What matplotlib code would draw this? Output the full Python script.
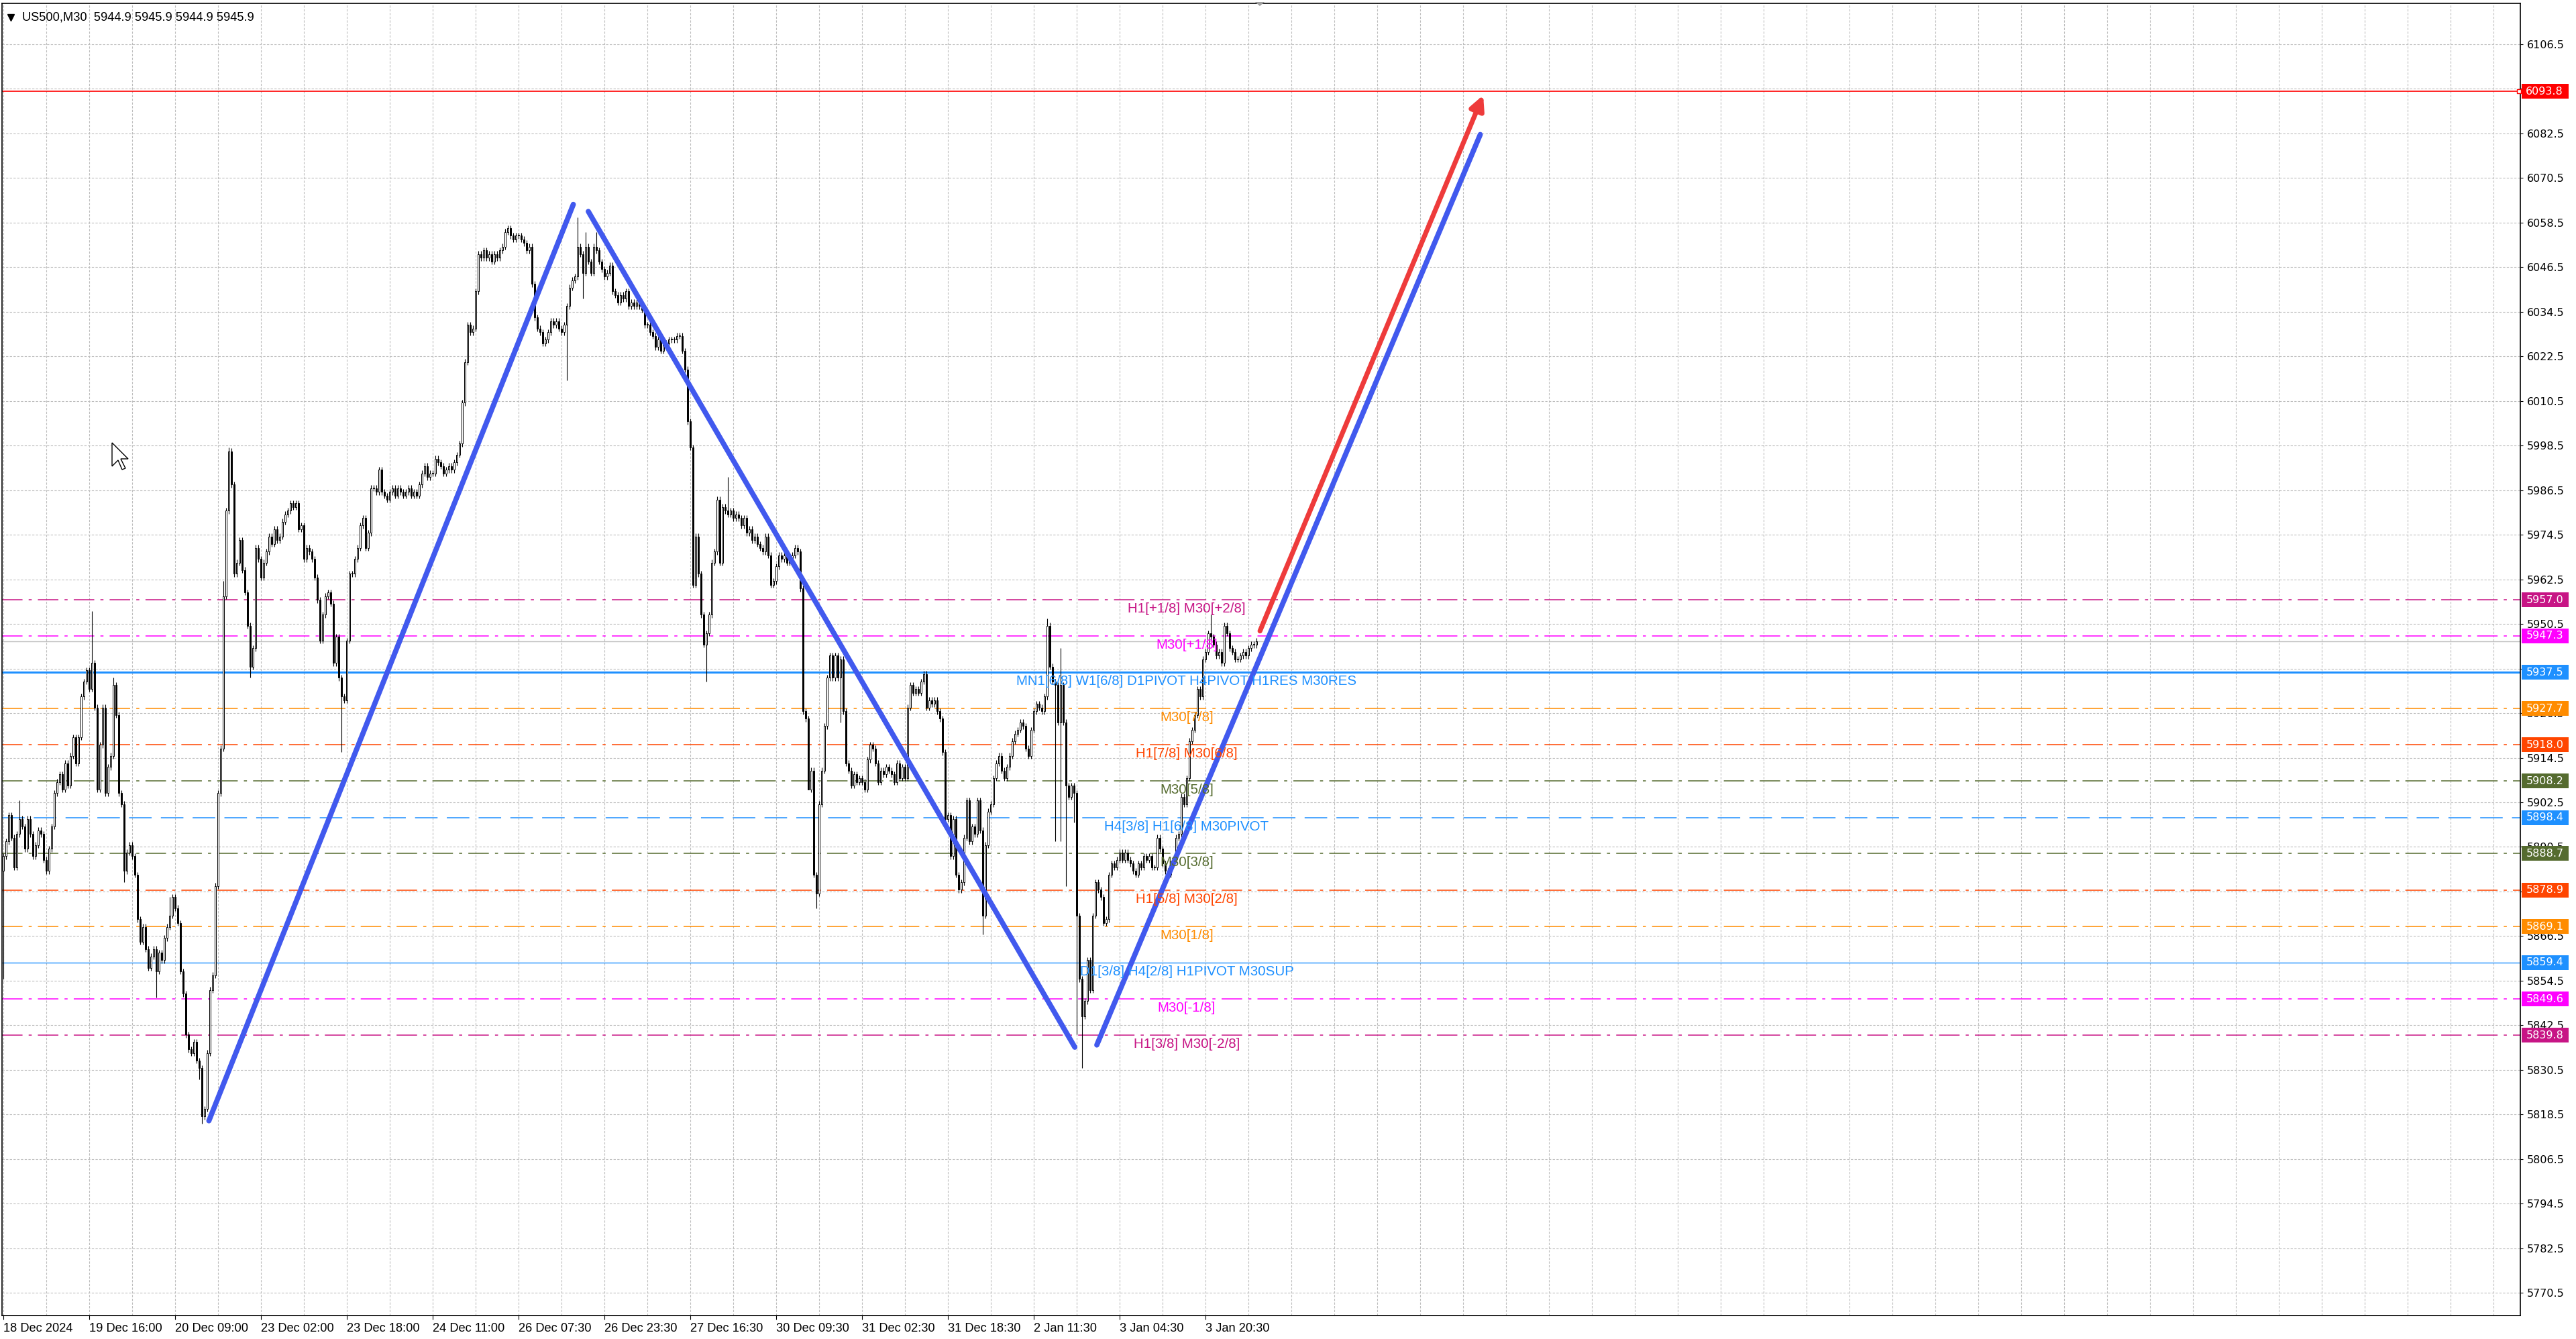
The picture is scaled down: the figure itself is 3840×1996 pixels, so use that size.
import numpy as np
import matplotlib
matplotlib.use("Agg")
import matplotlib.pyplot as plt
from matplotlib import font_manager
from matplotlib.patches import Polygon, Rectangle

W, H, DPI = 3840, 1996, 100

# ---------------- data ----------------
first_open = 5884.0
closes = [
    5888, 5892, 5899, 5893, 5885, 5894, 5898, 5896, 5890, 5898,
    5894, 5888, 5891, 5895, 5894, 5887, 5884, 5890, 5896, 5905,
    5908, 5910, 5906, 5913, 5907, 5915, 5920, 5913, 5920, 5931,
    5935, 5938, 5933, 5940, 5928, 5906, 5918, 5928, 5905, 5912,
    5915, 5934, 5926, 5905, 5902, 5884, 5889, 5891, 5888, 5883,
    5871, 5865, 5869, 5863, 5858, 5861, 5863, 5857, 5862, 5860,
    5866, 5869, 5872, 5877, 5874, 5870, 5857, 5851, 5840, 5836,
    5835, 5838, 5833, 5831, 5818, 5820, 5835, 5852, 5856, 5880,
    5905, 5917, 5958, 5981, 5997, 5988, 5964, 5967, 5973, 5965,
    5959, 5950, 5939, 5944, 5971, 5968, 5963, 5967, 5970, 5974,
    5972, 5976, 5973, 5974, 5978, 5980, 5981, 5983, 5982, 5983,
    5976, 5977, 5968, 5971, 5970, 5968, 5963, 5957, 5946, 5953,
    5958, 5959, 5956, 5940, 5947, 5936, 5931, 5930, 5946, 5964,
    5964, 5968, 5971, 5977, 5979, 5971, 5975, 5987, 5987, 5986,
    5992, 5986, 5985, 5984, 5986, 5987, 5985, 5987, 5986, 5985,
    5986, 5987, 5985, 5986, 5985, 5988, 5991, 5993, 5990, 5991,
    5991, 5995, 5994, 5993, 5991, 5992, 5993, 5992, 5994, 5996,
    5999, 6010, 6021, 6031, 6029, 6030, 6040, 6050, 6049, 6051,
    6049, 6050, 6048, 6050, 6049, 6051, 6052, 6056, 6057, 6055,
    6054, 6055, 6055, 6054, 6053, 6051, 6052, 6042, 6033, 6030,
    6029, 6026, 6027, 6029, 6032, 6031, 6032, 6030, 6029, 6031,
    6036, 6041, 6043, 6044, 6052, 6050, 6045, 6052, 6048, 6045,
    6052, 6051, 6048, 6046, 6044, 6045, 6047, 6040, 6039, 6037,
    6039, 6038, 6040, 6036, 6037, 6036, 6037, 6036, 6035, 6031,
    6031, 6029, 6028, 6025, 6027, 6024, 6026, 6026, 6027, 6027,
    6027, 6028, 6028, 6024, 6019, 6005, 5998, 5961, 5974, 5964,
    5953, 5945, 5948, 5953, 5967, 5970, 5984, 5967, 5982, 5981,
    5980, 5981, 5979, 5980, 5979, 5977, 5979, 5975, 5976, 5973,
    5974, 5972, 5971, 5970, 5974, 5969, 5961, 5962, 5966, 5969,
    5968, 5969, 5967, 5968, 5969, 5971, 5970, 5960, 5927, 5925,
    5906, 5911, 5883, 5878, 5902, 5911, 5923, 5936, 5942, 5936,
    5942, 5936, 5941, 5927, 5913, 5911, 5907, 5910, 5908, 5909,
    5908, 5906, 5914, 5918, 5917, 5913, 5908, 5911, 5910, 5912,
    5911, 5910, 5908, 5913, 5909, 5912, 5909, 5928, 5934, 5932,
    5933, 5932, 5935, 5937, 5928, 5930, 5929, 5930, 5927, 5925,
    5916, 5898, 5899, 5888, 5898, 5883, 5879, 5881, 5893, 5903,
    5892, 5896, 5894, 5903, 5895, 5872, 5891, 5900, 5902, 5909,
    5913, 5915, 5911, 5909, 5912, 5915, 5919, 5921, 5922, 5924,
    5923, 5917, 5915, 5922, 5927, 5929, 5928, 5927, 5931, 5950,
    5939, 5935, 5934, 5924, 5934, 5924, 5907, 5904, 5907, 5905,
    5872, 5855, 5845, 5849, 5860, 5852, 5872, 5881, 5879, 5877,
    5870, 5871, 5883, 5886, 5885, 5887, 5889, 5887, 5889, 5887,
    5886, 5884, 5883, 5886, 5885, 5888, 5887, 5888, 5885, 5885,
    5893, 5890, 5886, 5884, 5883, 5886, 5887, 5893, 5894, 5904,
    5902, 5909, 5919, 5922, 5926, 5933, 5931, 5941, 5943, 5948,
    5947, 5945, 5942, 5943, 5940, 5950, 5948, 5944, 5943, 5941,
    5941, 5942, 5943, 5942, 5944, 5945, 5944.9, 5945.9,
]
# notable wick extremes (bar index: price)
wick_highs = {6: 5903, 33: 5954, 41: 5936, 62: 5877, 82: 5962, 84: 5998,
              214: 6060, 217: 6056, 221: 6056, 270: 5990, 389: 5952,
              394: 5944, 450: 5953}
wick_lows = {0: 5855, 45: 5881, 57: 5850, 73: 5828, 74: 5816, 92: 5936,
             126: 5916, 210: 6016, 216: 6038, 262: 5935, 300: 5918,
             303: 5874, 312: 5924, 365: 5867, 392: 5892, 394: 5892,
             396: 5880, 399: 5897, 400: 5840, 402: 5831}

y_ticks = [5770.5, 5782.5, 5794.5, 5806.5, 5818.5, 5830.5, 5842.5, 5854.5,
           5866.5, 5878.5, 5890.5, 5902.5, 5914.5, 5926.5, 5938.5, 5950.5,
           5962.5, 5974.5, 5986.5, 5998.5, 6010.5, 6022.5, 6034.5, 6046.5,
           6058.5, 6070.5, 6082.5, 6094.5, 6106.5]
x_labels = ["18 Dec 2024", "19 Dec 16:00", "20 Dec 09:00", "23 Dec 02:00",
            "23 Dec 18:00", "24 Dec 11:00", "26 Dec 07:30", "26 Dec 23:30",
            "27 Dec 16:30", "30 Dec 09:30", "31 Dec 02:30", "31 Dec 18:30",
            "2 Jan 11:30", "3 Jan 04:30", "3 Jan 20:30"]

levels = [5957.0, 5947.3, 5937.5, 5927.7, 5918.0, 5908.2, 5898.4,
          5888.7, 5878.9, 5869.1, 5859.4, 5849.6, 5839.8]
level_colors = ["#C71585", "#FF00FF", "#1E90FF", "#FF8C00", "#FF4500",
                "#556B2F", "#1E90FF", "#556B2F", "#FF4500", "#FF8C00",
                "#1E90FF", "#FF00FF", "#C71585"]
level_styles = ["dashdot", "dashdot", "thick", "dashdot", "dashdot",
                "dashdot", "dashed", "dashdot", "dashdot", "dashdot",
                "solid", "dashdot", "dashdot"]
level_labels = ["H1[+1/8] M30[+2/8]", "M30[+1/8]",
                "MN1[6/8] W1[6/8] D1PIVOT H4PIVOT H1RES M30RES",
                "M30[7/8]", "H1[7/8] M30[6/8]", "M30[5/8]",
                "H4[3/8] H1[6/8] M30PIVOT", "M30[3/8]", "H1[5/8] M30[2/8]",
                "M30[1/8]", "D1[3/8] H4[2/8] H1PIVOT M30SUP", "M30[-1/8]",
                "H1[3/8] M30[-2/8]"]
target_level = 6093.8
bid_price = 5945.9
title_text = "US500,M30  5944.9 5945.9 5944.9 5945.9"

blue_lines = [((76.6, 5816.8), (212.4, 6063.4)),
              ((218.0, 6061.5), (399.3, 5836.6)),
              ((407.5, 5837.2), (550.4, 6082.2))]
red_arrow = ((468.3, 5948.6), (551.5, 6092.8))

# ---------------- fonts ----------------
names = {f.name for f in font_manager.fontManager.ttflist}
if "Liberation Sans Narrow" in names:
    NARROW, k = "Liberation Sans Narrow", 1.0
else:
    NARROW, k = "Liberation Sans", 0.82
LBL_FS = 18 * k
XL_FS = 16 * k
TICK_FS = 11.5

# ---------------- figure ----------------
fig = plt.figure(figsize=(W / DPI, H / DPI), dpi=DPI, facecolor="white")
ax = fig.add_axes([3 / W, 35 / H, 3754 / W, 1956 / H])
ax.set_facecolor("white")
XMIN, XMAX = -0.5, 938.0
YMIN, YMAX = 5764.4, 6117.5
ax.set_xlim(XMIN, XMAX)
ax.set_ylim(YMIN, YMAX)

# grid
ax.set_yticks(y_ticks)
ax.set_xticks(np.arange(0, 32 * len(x_labels), 32))
ax.set_xticks(np.arange(0, 939, 16), minor=True)
ax.grid(True, which="both", color="#BDBDBD", linestyle=(0, (3, 2)), linewidth=0.8, zorder=0)
ax.set_axisbelow(True)

# levels
for lv, col, st, txt in zip(levels, level_colors, level_styles, level_labels):
    if st == "dashdot":
        ax.axhline(lv, color=col, lw=1.1, linestyle=(0, (20, 6, 3, 6)), zorder=2)
    elif st == "dashed":
        ax.axhline(lv, color=col, lw=1.1, linestyle=(0, (22, 9)), zorder=2)
    elif st == "thick":
        ax.axhline(lv, color=col, lw=2.2, zorder=2)
    else:
        ax.axhline(lv, color=col, lw=1.0, zorder=2)
    ax.annotate(txt, xy=(441, lv), xytext=(0, -4), textcoords="offset pixels",
                ha="center", va="top", color=col, fontsize=LBL_FS,
                family=[NARROW, "DejaVu Sans"], zorder=7)

ax.axhline(target_level, color="#FF0000", lw=1.2, zorder=2)
ax.plot([XMAX - 0.6], [target_level], marker="s", ms=4, mfc="white",
        mec="#FF0000", mew=1, clip_on=False, zorder=8)
ax.axhline(bid_price, color="#C0C0C0", lw=1.0, zorder=2)

# candles
c = np.array(closes, dtype=float)
o = np.concatenate([[first_open], c[:-1]])
x = np.arange(len(c))
top = np.maximum(o, c)
bot = np.minimum(o, c)
hi = top + 0.8
lo = bot - 0.8
for i, v in wick_highs.items():
    hi[i] = v
for i, v in wick_lows.items():
    lo[i] = v
ax.vlines(x, lo, hi, color="black", lw=0.8, zorder=3)
fc = np.where(c >= o, "white", "black")
ax.bar(x, np.maximum(top - bot, 0.15), bottom=bot, width=0.72, color=fc,
       edgecolor="black", linewidth=0.7, zorder=4)

# trend lines
for (x0, y0), (x1, y1) in blue_lines:
    ax.plot([x0, x1], [y0, y1], color="#4159EE", lw=5.6,
            solid_capstyle="round", zorder=5)
(rx0, ry0), (rx1, ry1) = red_arrow
ax.annotate("", xy=(rx1, ry1), xytext=(rx0, ry0),
            arrowprops=dict(arrowstyle="-|>", color="#EE3B3B", lw=5.2,
                            mutation_scale=32, shrinkA=0, shrinkB=0,
                            capstyle="round"), zorder=5)

# axes styling
for s in ax.spines.values():
    s.set_color("black")
    s.set_linewidth(1.2)
ax.yaxis.tick_right()
ax.tick_params(axis="y", which="major", length=3, width=0.8, pad=4,
               labelsize=TICK_FS, colors="black")
ax.set_yticklabels([f"{t:.1f}" for t in y_ticks], family="DejaVu Sans")
ax.tick_params(axis="x", which="major", length=4, width=0.8, pad=4,
               labelsize=XL_FS)
ax.tick_params(axis="x", which="minor", length=0)
ax.set_xticklabels(x_labels, family=[NARROW, "DejaVu Sans"], ha="left")

# price boxes on the right scale
box_levels = [target_level] + levels
box_colors = ["#FF0000"] + level_colors
ytr = ax.get_yaxis_transform()
box_h = 22 / 1956 * (YMAX - YMIN)
for lv, col in zip(box_levels, box_colors):
    ax.add_patch(Rectangle((1.0005, lv - box_h / 2), 70 / 3754, box_h,
                           transform=ytr, fc=col, ec="none", clip_on=False,
                           zorder=9))
    ax.text(1.0022, lv, f"{lv:.1f}", transform=ytr, ha="left", va="center",
            color="white", fontsize=TICK_FS, family="DejaVu Sans",
            clip_on=False, zorder=10)

# header
ax.plot([0.0035], [0.9895], marker="v", ms=7, color="black",
        transform=ax.transAxes, clip_on=False, zorder=10)
ax.text(0.0080, 0.9895, title_text, transform=ax.transAxes, ha="left",
        va="center", fontsize=XL_FS, family=[NARROW, "DejaVu Sans"],
        color="black", zorder=10)

# chart shift marker and mouse pointer (screen artefacts)
def px(pts):
    return [((a) / W, 1 - (b) / H) for a, b in pts]

fig.patches.append(Polygon(px([(1871, 3), (1885, 3), (1878, 9)]),
                           closed=True, fc="#A0A0A0", ec="none",
                           transform=fig.transFigure, zorder=20))
cur = [(0, 0), (0, 35), (9, 26), (15, 40), (20, 38), (13, 24), (24, 24)]
fig.patches.append(Polygon(px([(167 + a, 660 + b) for a, b in cur]),
                           closed=True, fc="white", ec="black", lw=1.0,
                           transform=fig.transFigure, zorder=20))

fig.savefig("out.png", dpi=DPI, facecolor="white")
